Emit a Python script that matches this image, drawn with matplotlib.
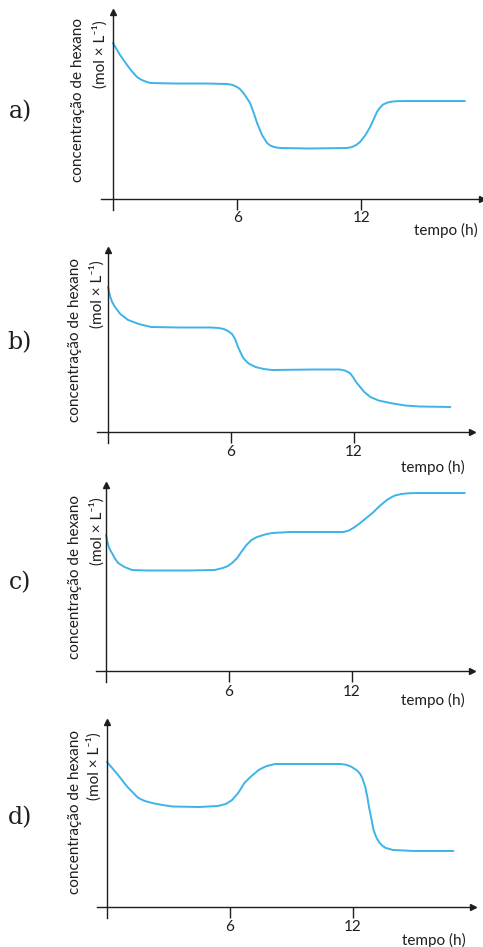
import matplotlib.pyplot as plt

# readings (time in h, concentration in arbitrary units)
t_a = [0.0, 0.34, 0.68, 0.9, 1.16, 1.35, 1.5, 1.8, 3.0, 4.5, 5.5, 5.75, 5.95, 6.13, 6.3, 6.45, 6.62,
       6.8, 6.96, 7.2, 7.44, 7.6, 7.75, 7.9, 8.07, 9.5, 11.3, 11.55, 11.75, 11.93, 12.2, 12.42,
       12.6, 12.75, 12.9, 13.05, 13.24, 13.45, 13.7, 14.2, 17.0]
c_a = [156, 144, 134, 128, 122, 119.5, 118, 116, 115.5, 115.5, 115, 114.2, 112.5, 110, 106, 101.5, 96,
       86, 76, 64, 56, 53.5, 52.2, 51.5, 51, 50.5, 51, 52, 54, 57, 64, 72,
       80, 87, 91.5, 94.5, 96.3, 97.3, 97.8, 98, 98]

t_b = [0.0, 0.1, 0.2, 0.34, 0.6, 0.98, 1.5, 2.1, 3.5, 5.0, 5.4, 5.65, 5.85, 6.05, 6.2, 6.34, 6.5,
       6.6, 6.75, 6.9, 7.2, 7.6, 8.0, 10.0, 11.3, 11.55, 11.8, 11.95, 12.1, 12.3, 12.5, 12.8,
       13.2, 13.76, 14.5, 15.2, 16.7]
c_b = [145, 136, 130, 125, 118, 112, 108, 105, 104.5, 104.5, 104, 103, 101, 98, 93, 85, 78,
       74, 70.5, 68, 65, 63, 62, 62.5, 62.5, 61.5, 59, 55, 50, 45, 40, 35,
       31.5, 29, 26.5, 25.5, 25]

t_c = [0.0, 0.06, 0.12, 0.2, 0.29, 0.45, 0.59, 0.9, 1.27, 2.0, 4.0, 5.3, 5.7, 5.95, 6.15, 6.4, 6.6,
       6.85, 7.1, 7.35, 7.6, 7.85, 8.1, 9.0, 11.6, 11.85, 12.1, 12.4, 12.7, 13.0, 13.35, 13.7,
       13.9, 14.1, 14.4, 14.8, 15.3, 17.5]
c_c = [136, 130, 125, 121, 118, 112, 108, 104, 101, 100.5, 100.5, 101, 103, 105, 108, 113, 119,
       126, 131, 133.8, 135.5, 137, 138, 139, 139, 140.5, 143.5, 148, 153, 158, 165, 171,
       173.5, 175.5, 177, 177.8, 178, 178]

t_d = [0.0, 0.5, 1.0, 1.5, 1.7, 1.85, 2.2, 2.7, 3.2, 4.5, 5.4, 5.8, 6.1, 6.4, 6.7, 7.05, 7.4, 7.6,
       7.8, 8.2, 9.5, 11.4, 11.65, 11.9, 12.2, 12.35, 12.45, 12.6, 12.7, 12.78, 12.9, 13.0,
       13.15, 13.3, 13.45, 13.6, 13.95, 15.0, 16.9]
c_d = [145, 133, 120, 109.5, 107.3, 106, 104, 102, 100.5, 100, 101, 103, 107, 114, 124, 131, 137, 139.2,
       141, 143, 143, 143, 142.3, 140.5, 136.5, 133, 129, 120, 110, 100, 88, 77,
       69, 64, 61, 59, 57, 56, 56]

panel_names = ['a)', 'b)', 'c)', 'd)']
xtick_vals = [6, 12]
xtick_labels = ['6', '12']
ylabel1 = 'concentração de hexano'
ylabel2 = '(mol × L⁻¹)'
xlabel = 'tempo (h)'

W, H = 483, 947
# pixel layout of each panel: origin x, origin y, px per hour, left, right, top, bottom
layout = [
    (113, 199, 20.7, 101, 482, 12, 210),
    (108, 432, 20.5, 97, 472, 250, 443),
    (106, 671, 20.5, 96, 472, 485, 682),
    (107, 907, 20.5, 97, 473, 722, 918),
]
ylab_pos = [(78, 100, 18), (75, 97, 258), (75, 97, 495), (75, 94, 730)]
tick_y = [218, 452, 692, 927]
tempo_pos = [(446, 230), (433, 467), (433, 700), (434, 940)]
name_pos = [(20, 112), (20, 343), (20, 583), (20, 818)]

blue = '#3db3e8'
ink = '#1e1e1e'
sans = ['Lato', 'DejaVu Sans']

fig = plt.figure(figsize=(W / 100, H / 100), dpi=100)

def fx(x):
    return x / W

def fy(y):
    return 1 - y / H

curves = [(t_a, c_a), (t_b, c_b), (t_c, c_c), (t_d, c_d)]
for i, (tt, cc) in enumerate(curves):
    x0, y0, s, left, right, top, bot = layout[i]
    ax = fig.add_axes([fx(left), fy(bot), (right - left) / W, (bot - top) / H])
    ax.set_xlim((left - x0) / s, (right - x0) / s)
    ax.set_ylim(-(bot - y0), y0 - top)
    ax.plot(tt, cc, color=blue, lw=1.4, solid_capstyle='round', solid_joinstyle='round')
    for side in ['top', 'right']:
        ax.spines[side].set_visible(False)
    ax.spines['left'].set_position(('data', 0))
    ax.spines['bottom'].set_position(('data', 0))
    for side in ['left', 'bottom']:
        ax.spines[side].set_color(ink)
        ax.spines[side].set_linewidth(1.0)
    ax.set_yticks([])
    ax.set_xticks(xtick_vals)
    ax.set_xticklabels([])
    ax.tick_params(axis='x', direction='out', length=8, width=1.0, color=ink)
    ax.plot(1, 0, '>', color=ink, ms=5, transform=ax.get_yaxis_transform(), clip_on=False)
    ax.plot(0, 1, '^', color=ink, ms=5, transform=ax.get_xaxis_transform(), clip_on=False)
    for v, lab in zip(xtick_vals, xtick_labels):
        fig.text(fx(x0 + v * s), fy(tick_y[i]), lab, ha='center', va='center',
                 fontsize=11, family=sans, color=ink)
    fig.text(fx(tempo_pos[i][0]), fy(tempo_pos[i][1]), xlabel, ha='center', va='center',
             fontsize=11, family=sans, color=ink)
    lx1, lx2, ltop = ylab_pos[i]
    fig.text(fx(lx1), fy(ltop), ylabel1, rotation=90, rotation_mode='anchor',
             ha='right', va='center', fontsize=11, family=sans, color=ink)
    fig.text(fx(lx2), fy(ltop + 2), ylabel2, rotation=90, rotation_mode='anchor',
             ha='right', va='center', fontsize=11, family=sans, color=ink)
    fig.text(fx(name_pos[i][0]), fy(name_pos[i][1]), panel_names[i], ha='center', va='center',
             fontsize=17, family=['DejaVu Serif'], color=ink)

fig.savefig('out.png', dpi=100)
